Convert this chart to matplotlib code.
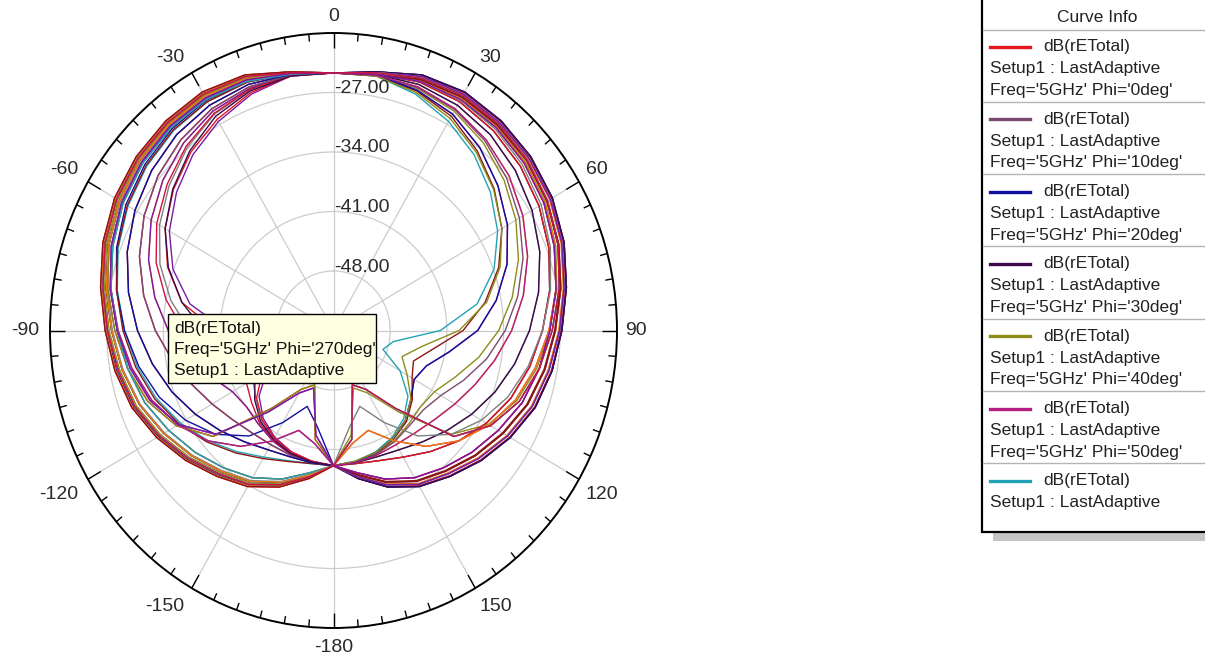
import numpy as np
import matplotlib
matplotlib.use("Agg")
import matplotlib.pyplot as plt
from matplotlib.patches import Rectangle
from matplotlib.lines import Line2D

plt.rcParams['font.family'] = ['Liberation Sans', 'DejaVu Sans']

# ---- data: dB(rETotal) vs theta (deg) for each phi cut, 5 GHz ----
theta_deg = list(range(-180, 181, 10))
phi_deg = list(range(0, 360, 10))

rE_phi000 = [-39.1, -37.3, -35.4, -33.8, -32.6, -31.2, -29.8, -28.5, -27.6, -26.8, -25.8, -24.7, -23.8, -23.2, -22.8, -22.6, -23.0, -24.1, -24.7, -24.1, -23.1, -22.7, -22.9, -23.3, -23.9, -24.8, -25.9, -26.9, -27.7, -28.6, -29.9, -31.3, -32.7, -33.9, -35.5, -37.4, -39.1]
rE_phi010 = [-39.1, -37.5, -35.7, -34.1, -33.0, -31.6, -30.2, -28.9, -28.0, -27.1, -26.1, -25.0, -24.1, -23.5, -23.1, -22.9, -23.2, -24.2, -24.7, -24.1, -23.0, -22.6, -22.8, -23.2, -23.8, -24.7, -25.8, -26.8, -27.6, -28.5, -29.8, -31.2, -32.6, -33.8, -35.4, -37.3, -39.1]
rE_phi020 = [-39.1, -37.4, -35.6, -34.0, -32.8, -31.4, -30.0, -28.7, -27.8, -27.0, -26.0, -24.9, -24.0, -23.4, -23.0, -22.8, -23.1, -24.1, -24.7, -24.1, -23.0, -22.6, -22.8, -23.2, -23.8, -24.7, -25.8, -26.8, -27.6, -28.5, -29.8, -31.2, -32.6, -33.8, -35.4, -37.3, -39.1]
rE_phi030 = [-39.1, -37.7, -36.0, -34.5, -33.4, -32.1, -30.8, -29.5, -28.5, -27.6, -26.5, -25.4, -24.5, -23.8, -23.4, -23.2, -23.5, -24.3, -24.7, -24.3, -23.9, -23.9, -24.3, -24.9, -25.7, -26.7, -27.9, -29.2, -30.4, -31.7, -33.2, -34.8, -36.4, -37.8, -38.7, -39.1, -39.1]
rE_phi040 = [-39.1, -37.6, -35.8, -34.3, -33.2, -31.8, -30.4, -29.1, -28.2, -27.3, -26.3, -25.2, -24.3, -23.6, -23.2, -23.0, -23.3, -24.2, -24.7, -24.5, -24.7, -25.2, -26.2, -27.5, -29.0, -30.7, -32.6, -34.6, -36.8, -39.0, -40.6, -41.0, -40.6, -40.0, -39.5, -39.2, -39.1]
rE_phi050 = [-39.1, -38.0, -36.4, -35.0, -33.9, -32.7, -31.5, -30.2, -29.2, -28.3, -27.1, -26.0, -25.0, -24.3, -23.8, -23.6, -23.8, -24.4, -24.7, -24.5, -24.9, -25.6, -26.9, -28.5, -30.2, -32.2, -34.6, -37.2, -40.5, -42.8, -43.5, -42.5, -41.2, -40.3, -39.7, -39.3, -39.1]
rE_phi060 = [-39.1, -39.1, -38.7, -37.8, -36.4, -34.8, -33.2, -31.7, -30.4, -29.2, -27.9, -26.7, -25.7, -24.9, -24.3, -23.9, -23.9, -24.3, -24.7, -24.6, -25.4, -26.6, -28.0, -29.7, -31.6, -33.9, -37.0, -41.8, -47.5, -48.5, -45.5, -43.0, -41.5, -40.5, -39.8, -39.4, -39.1]
rE_phi070 = [-39.1, -39.2, -39.5, -40.0, -40.6, -41.0, -40.6, -39.0, -36.8, -34.6, -32.6, -30.7, -29.0, -27.5, -26.2, -25.2, -24.7, -24.5, -24.7, -24.5, -24.5, -24.9, -25.7, -26.7, -28.0, -29.5, -31.2, -33.0, -34.8, -36.4, -37.7, -38.7, -39.3, -39.5, -39.4, -39.2, -39.1]
rE_phi080 = [-39.1, -39.3, -39.7, -40.3, -41.2, -42.5, -43.5, -42.8, -40.5, -37.2, -34.6, -32.2, -30.2, -28.5, -26.9, -25.6, -24.9, -24.5, -24.7, -24.4, -24.2, -24.4, -24.9, -25.7, -26.7, -27.9, -29.3, -30.8, -32.3, -33.8, -35.3, -36.7, -37.9, -38.8, -39.2, -39.2, -39.1]
rE_phi090 = [-39.1, -39.2, -39.2, -38.8, -37.9, -36.7, -35.3, -33.8, -32.3, -30.8, -29.3, -27.9, -26.7, -25.7, -24.9, -24.4, -24.2, -24.4, -24.7, -24.6, -25.0, -25.9, -27.4, -29.1, -31.0, -33.3, -36.0, -39.0, -42.5, -44.5, -43.8, -42.3, -41.0, -40.2, -39.6, -39.3, -39.1]
rE_phi100 = [-39.1, -39.4, -39.8, -40.5, -41.5, -43.0, -45.5, -48.5, -47.5, -41.8, -37.0, -33.9, -31.6, -29.7, -28.0, -26.6, -25.4, -24.6, -24.7, -24.2, -23.4, -23.1, -23.3, -23.8, -24.5, -25.5, -26.7, -28.0, -29.2, -30.6, -32.6, -35.6, -43.0, -47.0, -48.2, -42.0, -39.1]
rE_phi110 = [-39.1, -39.2, -39.4, -39.5, -39.3, -38.7, -37.7, -36.4, -34.8, -33.0, -31.2, -29.5, -28.0, -26.7, -25.7, -24.9, -24.5, -24.5, -24.7, -24.3, -23.7, -23.5, -23.7, -24.2, -24.9, -25.9, -27.1, -28.4, -29.7, -31.1, -32.8, -34.8, -37.2, -40.0, -42.5, -41.5, -39.1]
rE_phi120 = [-39.1, -42.0, -48.2, -47.0, -43.0, -35.6, -32.6, -30.6, -29.2, -28.0, -26.7, -25.5, -24.5, -23.8, -23.3, -23.1, -23.4, -24.2, -24.7, -24.4, -23.8, -23.6, -23.8, -24.3, -25.0, -26.0, -27.1, -28.3, -29.2, -30.2, -31.5, -32.7, -33.9, -35.0, -36.4, -38.0, -39.1]
rE_phi130 = [-39.1, -41.5, -42.5, -40.0, -37.2, -34.8, -32.8, -31.1, -29.7, -28.4, -27.1, -25.9, -24.9, -24.2, -23.7, -23.5, -23.7, -24.3, -24.7, -24.3, -23.5, -23.2, -23.4, -23.8, -24.5, -25.4, -26.5, -27.6, -28.5, -29.5, -30.8, -32.1, -33.4, -34.5, -36.0, -37.7, -39.1]
rE_phi140 = [-39.1, -43.5, -45.5, -42.5, -38.8, -36.0, -33.9, -32.1, -30.6, -29.2, -27.8, -26.5, -25.4, -24.6, -24.0, -23.7, -23.8, -24.3, -24.7, -24.2, -23.2, -22.9, -23.1, -23.5, -24.1, -25.0, -26.1, -27.1, -28.0, -28.9, -30.2, -31.6, -33.0, -34.1, -35.7, -37.5, -39.1]
rE_phi150 = [-39.1, -37.7, -36.0, -34.5, -33.4, -32.1, -30.8, -29.5, -28.5, -27.6, -26.5, -25.4, -24.5, -23.8, -23.4, -23.2, -23.5, -24.3, -24.7, -24.1, -23.0, -22.6, -22.8, -23.2, -23.8, -24.7, -25.8, -26.8, -27.6, -28.5, -29.8, -31.2, -32.6, -33.8, -35.4, -37.3, -39.1]
rE_phi160 = [-39.1, -38.0, -36.4, -35.0, -33.9, -32.7, -31.5, -30.2, -29.2, -28.3, -27.1, -26.0, -25.0, -24.3, -23.8, -23.6, -23.8, -24.4, -24.7, -24.3, -23.6, -23.4, -23.6, -24.1, -24.8, -25.8, -27.0, -28.3, -29.5, -30.9, -32.9, -36.0, -42.5, -46.5, -47.8, -42.5, -39.1]
rE_phi170 = [-39.1, -42.5, -47.8, -46.5, -42.5, -36.0, -32.9, -30.9, -29.5, -28.3, -27.0, -25.8, -24.8, -24.1, -23.6, -23.4, -23.6, -24.3, -24.7, -24.2, -23.2, -22.9, -23.1, -23.5, -24.1, -25.0, -26.1, -27.1, -28.0, -28.9, -30.2, -31.6, -33.0, -34.1, -35.7, -37.5, -39.1]
rE_phi180 = [-39.1, -37.5, -35.7, -34.1, -33.0, -31.6, -30.2, -28.9, -28.0, -27.1, -26.1, -25.0, -24.1, -23.5, -23.1, -22.9, -23.2, -24.2, -24.7, -24.2, -23.2, -22.9, -23.1, -23.5, -24.1, -25.0, -26.1, -27.1, -28.0, -28.9, -30.2, -31.6, -33.0, -34.1, -35.7, -37.5, -39.1]
rE_phi190 = [-39.1, -37.3, -35.5, -33.9, -32.7, -31.3, -29.9, -28.6, -27.7, -26.9, -25.9, -24.8, -23.9, -23.3, -22.9, -22.7, -23.1, -24.1, -24.7, -24.2, -23.3, -23.0, -23.2, -23.6, -24.2, -25.1, -26.2, -27.2, -28.1, -29.0, -30.3, -31.7, -33.1, -34.2, -35.8, -37.6, -39.1]
rE_phi200 = [-39.1, -37.8, -36.1, -34.6, -33.5, -32.2, -30.9, -29.6, -28.6, -27.7, -26.6, -25.5, -24.6, -23.9, -23.5, -23.3, -23.6, -24.3, -24.7, -24.3, -23.5, -23.2, -23.4, -23.8, -24.5, -25.4, -26.5, -27.6, -28.5, -29.5, -30.8, -32.1, -33.4, -34.5, -36.0, -37.7, -39.1]
rE_phi210 = [-39.1, -39.1, -38.6, -37.6, -36.2, -34.6, -33.0, -31.5, -30.2, -29.0, -27.8, -26.6, -25.6, -24.8, -24.2, -23.9, -23.9, -24.3, -24.7, -24.3, -23.5, -23.2, -23.4, -23.8, -24.5, -25.4, -26.5, -27.6, -28.5, -29.5, -30.8, -32.1, -33.4, -34.5, -36.0, -37.7, -39.1]
rE_phi220 = [-39.1, -39.2, -39.5, -40.0, -40.6, -41.0, -40.6, -39.0, -36.8, -34.6, -32.6, -30.7, -29.0, -27.5, -26.2, -25.2, -24.7, -24.5, -24.7, -24.2, -23.2, -22.9, -23.1, -23.5, -24.1, -25.0, -26.1, -27.1, -28.0, -28.9, -30.2, -31.6, -33.0, -34.1, -35.7, -37.5, -39.1]
rE_phi230 = [-39.1, -39.3, -39.6, -40.1, -40.8, -41.8, -42.6, -41.8, -39.6, -36.5, -34.0, -31.7, -29.8, -28.2, -26.7, -25.5, -24.8, -24.5, -24.7, -24.4, -23.8, -23.6, -23.8, -24.3, -25.0, -26.0, -27.1, -28.3, -29.2, -30.2, -31.5, -32.7, -33.9, -35.0, -36.4, -38.0, -39.1]
rE_phi240 = [-39.1, -39.4, -39.8, -40.4, -41.3, -42.6, -44.8, -47.5, -46.0, -40.5, -36.0, -33.2, -31.0, -29.2, -27.6, -26.3, -25.2, -24.6, -24.7, -24.3, -23.9, -23.9, -24.3, -24.9, -25.7, -26.7, -27.9, -29.2, -30.4, -31.7, -33.2, -34.8, -36.4, -37.8, -38.7, -39.1, -39.1]
rE_phi250 = [-39.1, -39.2, -39.4, -39.5, -39.3, -38.7, -37.7, -36.4, -34.8, -33.0, -31.2, -29.5, -28.0, -26.7, -25.7, -24.9, -24.5, -24.5, -24.7, -24.5, -24.6, -25.0, -25.9, -27.1, -28.5, -30.1, -31.9, -33.8, -35.8, -37.9, -39.7, -40.5, -40.4, -39.9, -39.5, -39.2, -39.1]
rE_phi260 = [-39.1, -39.2, -39.2, -38.8, -37.9, -36.7, -35.3, -33.8, -32.3, -30.8, -29.3, -27.9, -26.7, -25.7, -24.9, -24.4, -24.2, -24.4, -24.7, -24.5, -24.9, -25.6, -26.9, -28.5, -30.2, -32.2, -34.6, -37.2, -40.5, -42.8, -43.5, -42.5, -41.2, -40.3, -39.7, -39.3, -39.1]
rE_phi270 = [-39.1, -39.3, -39.6, -40.2, -41.0, -42.3, -43.8, -44.5, -42.5, -39.0, -36.0, -33.3, -31.0, -29.1, -27.4, -25.9, -25.0, -24.6, -24.7, -24.4, -24.2, -24.4, -24.9, -25.7, -26.7, -27.9, -29.3, -30.8, -32.3, -33.8, -35.3, -36.7, -37.9, -38.8, -39.2, -39.2, -39.1]
rE_phi280 = [-39.1, -42.0, -48.2, -47.0, -43.0, -35.6, -32.6, -30.6, -29.2, -28.0, -26.7, -25.5, -24.5, -23.8, -23.3, -23.1, -23.4, -24.2, -24.7, -24.6, -25.2, -26.2, -27.6, -29.2, -31.0, -33.1, -35.8, -39.5, -44.0, -46.0, -44.5, -42.5, -41.2, -40.3, -39.7, -39.4, -39.1]
rE_phi290 = [-39.1, -41.5, -42.5, -40.0, -37.2, -34.8, -32.8, -31.1, -29.7, -28.4, -27.1, -25.9, -24.9, -24.2, -23.7, -23.5, -23.7, -24.3, -24.7, -24.5, -24.5, -24.9, -25.7, -26.7, -28.0, -29.5, -31.2, -33.0, -34.8, -36.4, -37.7, -38.7, -39.3, -39.5, -39.4, -39.2, -39.1]
rE_phi300 = [-39.1, -38.0, -36.4, -35.0, -33.9, -32.7, -31.5, -30.2, -29.2, -28.3, -27.1, -26.0, -25.0, -24.3, -23.8, -23.6, -23.8, -24.4, -24.7, -24.2, -23.4, -23.1, -23.3, -23.8, -24.5, -25.5, -26.7, -28.0, -29.2, -30.6, -32.6, -35.6, -43.0, -47.0, -48.2, -42.0, -39.1]
rE_phi310 = [-39.1, -37.7, -36.0, -34.5, -33.4, -32.1, -30.8, -29.5, -28.5, -27.6, -26.5, -25.4, -24.5, -23.8, -23.4, -23.2, -23.5, -24.3, -24.7, -24.3, -23.7, -23.5, -23.7, -24.2, -24.9, -25.9, -27.1, -28.4, -29.7, -31.1, -32.8, -34.8, -37.2, -40.0, -42.5, -41.5, -39.1]
rE_phi320 = [-39.1, -37.5, -35.7, -34.1, -33.0, -31.6, -30.2, -28.9, -28.0, -27.1, -26.1, -25.0, -24.1, -23.5, -23.1, -22.9, -23.2, -24.2, -24.7, -24.3, -23.8, -23.7, -24.0, -24.6, -25.4, -26.5, -27.8, -29.2, -30.6, -32.1, -33.9, -36.0, -38.8, -42.5, -45.5, -43.5, -39.1]
rE_phi330 = [-39.1, -37.3, -35.4, -33.8, -32.6, -31.2, -29.8, -28.5, -27.6, -26.8, -25.8, -24.7, -23.8, -23.2, -22.8, -22.6, -23.0, -24.1, -24.7, -24.4, -23.6, -23.3, -23.5, -23.9, -24.6, -25.5, -26.6, -27.7, -28.6, -29.6, -30.9, -32.2, -33.5, -34.6, -36.1, -37.8, -39.1]
rE_phi340 = [-39.1, -42.5, -47.8, -46.5, -42.5, -36.0, -32.9, -30.9, -29.5, -28.3, -27.0, -25.8, -24.8, -24.1, -23.6, -23.4, -23.6, -24.3, -24.7, -24.4, -23.8, -23.6, -23.8, -24.3, -25.0, -26.0, -27.1, -28.3, -29.2, -30.2, -31.5, -32.7, -33.9, -35.0, -36.4, -38.0, -39.1]
rE_phi350 = [-39.1, -37.5, -35.7, -34.1, -33.0, -31.6, -30.2, -28.9, -28.0, -27.1, -26.1, -25.0, -24.1, -23.5, -23.1, -22.9, -23.2, -24.2, -24.7, -24.2, -23.4, -23.1, -23.3, -23.8, -24.5, -25.5, -26.7, -28.0, -29.2, -30.6, -32.6, -35.6, -43.0, -47.0, -48.2, -42.0, -39.1]

curves = [rE_phi000, rE_phi010, rE_phi020, rE_phi030, rE_phi040, rE_phi050,
          rE_phi060, rE_phi070, rE_phi080, rE_phi090, rE_phi100, rE_phi110,
          rE_phi120, rE_phi130, rE_phi140, rE_phi150, rE_phi160, rE_phi170,
          rE_phi180, rE_phi190, rE_phi200, rE_phi210, rE_phi220, rE_phi230,
          rE_phi240, rE_phi250, rE_phi260, rE_phi270, rE_phi280, rE_phi290,
          rE_phi300, rE_phi310, rE_phi320, rE_phi330, rE_phi340, rE_phi350]

r_min, r_max = -55.0, -20.0
ring_levels = [-48.0, -41.0, -34.0, -27.0]
angle_labels = [0, 30, 60, 90, 120, 150, -180, -150, -120, -90, -60, -30]
legend_phis = [0, 10, 20, 30, 40, 50]
quantity = "dB(rETotal)"
solution = "Setup1 : LastAdaptive"
freq = "5GHz"
marker_phi = 270

palette = ['#E3161D', '#7C4A70', '#10109E', '#3C0A4C', '#8C8C18', '#B41E84',
           '#22A2B4', '#F07C12', '#808080', '#8C1414', '#7A1AA8', '#D01040']

# ---- figure / pixel helpers ----
W, H = 1205, 660
fig = plt.figure(figsize=(W / 100, H / 100), dpi=100)
fig.patch.set_facecolor('white')


def fx(x):
    return x / W


def fy(y):
    return 1 - y / H


cx, cy, rx, ry = 333.5, 330.5, 283.5, 297.5
ax = fig.add_axes([fx(cx - rx), fy(cy + ry), 2 * rx / W, 2 * ry / H],
                  projection='polar')
ax.set_aspect('auto')
ax.set_theta_zero_location('N')
ax.set_theta_direction(-1)

th = np.deg2rad(theta_deg)
for i, vals in enumerate(curves):
    ax.plot(th, vals, color=palette[i % len(palette)], lw=1.0, zorder=3)

ax.set_ylim(r_min, r_max)
ax.set_yticks(ring_levels)
ax.set_yticklabels([])
ax.set_xticks(np.deg2rad(np.arange(0, 360, 30)))
ax.set_xticklabels([])
ax.tick_params(axis='both', length=0)
ax.grid(True, color='#cccccc', lw=0.9)
ax.spines['polar'].set_color('black')
ax.spines['polar'].set_linewidth(1.4)

# inward ticks on the outer circle: long every 30 deg, short every 5 deg
for a in range(0, 360, 5):
    t = np.deg2rad(a)
    px_per_db = np.hypot(rx * np.sin(t), ry * np.cos(t)) / (r_max - r_min)
    length_px = 15.0 if a % 30 == 0 else 7.5
    ax.plot([t, t], [r_max - length_px / px_per_db, r_max], color='black',
            lw=1.0, zorder=4, solid_capstyle='butt')

label_color = '#2a2a2a'
for a in angle_labels:
    t = np.deg2rad(a)
    s, c = np.sin(t), np.cos(t)
    x = cx + (rx + 8) * s
    y = cy - (ry + 8) * c
    ha = 'left' if s > 0.1 else ('right' if s < -0.1 else 'center')
    va = 'bottom' if c > 0.1 else ('top' if c < -0.1 else 'center')
    if c < -0.1:
        y += 3
    if s < -0.1:
        x -= 3
    fig.text(fx(x), fy(y), f"{a}", ha=ha, va=va, fontsize=14, color=label_color)

for v in ring_levels:
    y = cy - (v - r_min) / (r_max - r_min) * ry
    fig.text(fx(cx + 0.5), fy(y - 4), f"{v:.2f}", ha='left', va='center', fontsize=14,
             color=label_color, zorder=4)

# ---- marker tooltip ----
fig.add_artist(Rectangle((fx(168), fy(383)), (376 - 168) / W, (383 - 314) / H,
                         transform=fig.transFigure, facecolor='#FFFFE1',
                         edgecolor='black', lw=1.0, zorder=10))
tip_lines = [quantity, f"Freq='{freq}' Phi='{marker_phi}deg'", solution]
for j, s in enumerate(tip_lines):
    fig.text(fx(174), fy(328 + 21.5 * j), s, ha='left', va='center', fontsize=12.5,
             color='#111111', zorder=11)

# ---- curve info legend ----
fig.add_artist(Rectangle((fx(993), fy(541)), (W - 993 + 5) / W, 9 / H,
                         transform=fig.transFigure, facecolor='#c4c4c4',
                         edgecolor='none', zorder=9))
fig.add_artist(Rectangle((fx(982), fy(532)), (W - 982 + 10) / W, (532 + 10) / H,
                         transform=fig.transFigure, facecolor='white',
                         edgecolor='black', lw=1.6, zorder=10))
fig.text(fx(1097), fy(17), "Curve Info", ha='center', va='center', fontsize=12.5,
         color='#222222', zorder=11)

sep0, sep_step = 29.5, 72.3
n_entries = len(legend_phis) + 1
for k in range(n_entries):
    top = sep0 + sep_step * k
    fig.add_artist(Line2D([fx(983), fx(W)], [fy(top), fy(top)], transform=fig.transFigure,
                          color='#b4b4b4', lw=1.0, zorder=11))
    col = palette[k % len(palette)]
    yl = top + 17.5
    fig.add_artist(Line2D([fx(990), fx(1030)], [fy(yl), fy(yl)], transform=fig.transFigure,
                          color=col, lw=2.4, zorder=11))
    fig.text(fx(1043), fy(yl), quantity, ha='left', va='center', fontsize=12.5,
             color='#222222', zorder=11)
    fig.text(fx(990), fy(top + 39.5), solution, ha='left', va='center', fontsize=12.5,
             color='#222222', zorder=11)
    if k < len(legend_phis):
        fig.text(fx(990), fy(top + 61), f"Freq='{freq}' Phi='{legend_phis[k]}deg'",
                 ha='left', va='center', fontsize=12.5, color='#222222', zorder=11)

fig.savefig('out.png', dpi=100)
